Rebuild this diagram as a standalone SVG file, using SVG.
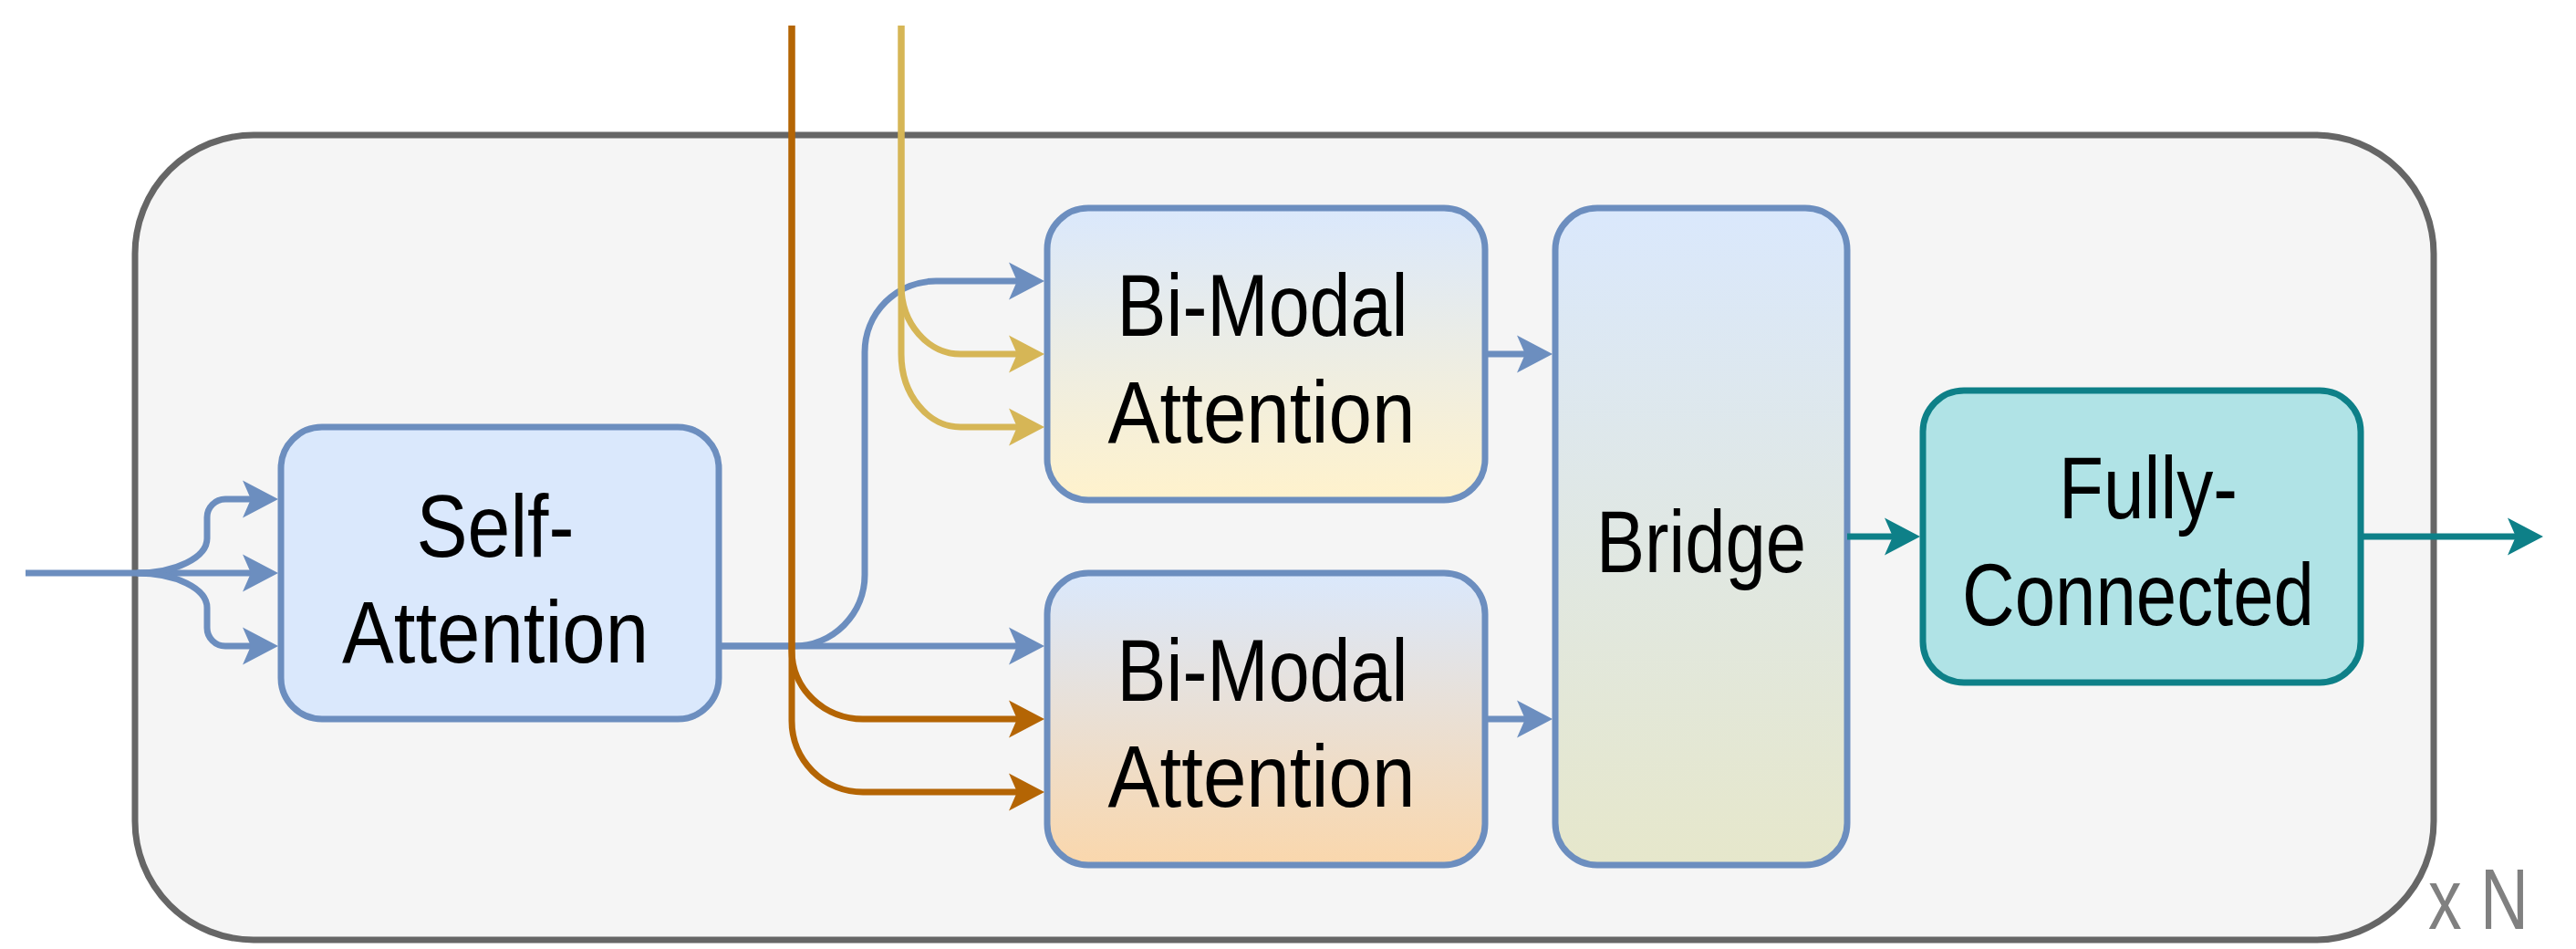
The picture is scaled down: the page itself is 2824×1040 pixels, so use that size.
<svg xmlns="http://www.w3.org/2000/svg" width="2824" height="1040" viewBox="0 0 2824 1040">
<style>
.lbl{font-family:"Liberation Sans Narrow","Liberation Sans",Arial,sans-serif;font-size:96px;fill:#000000;text-anchor:middle}
.box{stroke-width:7}
.blue{stroke:#6c8ebf}
.c{fill:none;stroke-width:7}
.cb{stroke:#6c8ebf;marker-end:url(#aB)}
.cy{stroke:#d6b656;marker-end:url(#aY)}
.co{stroke:#b46504;marker-end:url(#aO)}
.ct{stroke:#0e8088;marker-end:url(#aT)}
</style>
<defs>
<linearGradient id="gY" x1="0" y1="0" x2="0" y2="1"><stop offset="0" stop-color="#dae8fc"/><stop offset="1" stop-color="#fff2cc"/></linearGradient>
<linearGradient id="gO" x1="0" y1="0" x2="0" y2="1"><stop offset="0" stop-color="#dae8fc"/><stop offset="1" stop-color="#fad7ac"/></linearGradient>
<linearGradient id="gB" x1="0" y1="0" x2="0" y2="1"><stop offset="0" stop-color="#dae8fc"/><stop offset="1" stop-color="#e6e7cb"/></linearGradient>
<marker id="aB" markerUnits="userSpaceOnUse" viewBox="-45 -25 60 50" markerWidth="60" markerHeight="50" refX="0" refY="0" orient="auto"><polygon points="10,0 -29,-20.5 -20,0 -29,20.5" fill="#6c8ebf"/></marker>
<marker id="aY" markerUnits="userSpaceOnUse" viewBox="-45 -25 60 50" markerWidth="60" markerHeight="50" refX="0" refY="0" orient="auto"><polygon points="10,0 -29,-20.5 -20,0 -29,20.5" fill="#d6b656"/></marker>
<marker id="aO" markerUnits="userSpaceOnUse" viewBox="-45 -25 60 50" markerWidth="60" markerHeight="50" refX="0" refY="0" orient="auto"><polygon points="10,0 -29,-20.5 -20,0 -29,20.5" fill="#b46504"/></marker>
<marker id="aT" markerUnits="userSpaceOnUse" viewBox="-45 -25 60 50" markerWidth="60" markerHeight="50" refX="0" refY="0" orient="auto"><polygon points="10,0 -29,-20.5 -20,0 -29,20.5" fill="#0e8088"/></marker>
</defs>
<rect width="2824" height="1040" fill="#ffffff"/>
<g id="container">
<rect x="148" y="148" width="2520" height="882" rx="130" ry="130" fill="#f5f5f5" stroke="#666666" stroke-width="7"/>
<text x="2662" y="1018" textLength="110" lengthAdjust="spacingAndGlyphs" style="font-family:'Liberation Sans Narrow','Liberation Sans',Arial,sans-serif;font-size:95px;fill:#808080">x N</text>
</g>
<g id="self-attention">
<rect class="box blue" x="308" y="468" width="480" height="320" rx="45" fill="#dae8fc"/>
<text class="lbl" x="543" y="610" textLength="173" lengthAdjust="spacingAndGlyphs">Self-</text>
<text class="lbl" x="543" y="726" textLength="336" lengthAdjust="spacingAndGlyphs">Attention</text>
</g>
<g id="bimodal-top">
<rect class="box blue" x="1148" y="228" width="480" height="320" rx="45" fill="url(#gY)"/>
<text class="lbl" x="1384" y="368" textLength="319" lengthAdjust="spacingAndGlyphs">Bi-Modal</text>
<text class="lbl" x="1383" y="485" textLength="337" lengthAdjust="spacingAndGlyphs">Attention</text>
</g>
<g id="bimodal-bottom">
<rect class="box blue" x="1148" y="628" width="480" height="320" rx="45" fill="url(#gO)"/>
<text class="lbl" x="1384" y="768" textLength="319" lengthAdjust="spacingAndGlyphs">Bi-Modal</text>
<text class="lbl" x="1383" y="884" textLength="337" lengthAdjust="spacingAndGlyphs">Attention</text>
</g>
<g id="bridge">
<rect class="box blue" x="1705" y="228" width="320" height="720" rx="46" fill="url(#gB)"/>
<text class="lbl" x="1865" y="627" textLength="230" lengthAdjust="spacingAndGlyphs">Bridge</text>
</g>
<g id="fully-connected">
<rect class="box" x="2108" y="428" width="480" height="320" rx="45" fill="#b0e3e6" stroke="#0e8088"/>
<text class="lbl" x="2355" y="568" textLength="196" lengthAdjust="spacingAndGlyphs">Fully-</text>
<text class="lbl" x="2344" y="685" textLength="386" lengthAdjust="spacingAndGlyphs">Connected</text>
</g>
<g id="connectors">
<path class="c cb" d="M28,628 H295"/>
<path class="c cb" d="M150,628 A77,38 0 0 0 227,590 V567 A20,20 0 0 1 247,547 H295"/>
<path class="c cb" d="M150,628 A77,38 0 0 1 227,666 V688 A20,20 0 0 0 247,708 H295"/>
<path class="c cb" d="M788,708 H1135"/>
<path class="c cb" d="M788,708 H870 A78,78 0 0 0 948,630 V386 A78,78 0 0 1 1026,308 H1135"/>
<path class="c cy" d="M988,28 V313 A65,75 0 0 0 1053,388 H1135"/>
<path class="c cy" d="M988,28 V388 A65,80 0 0 0 1053,468 H1135"/>
<path class="c co" d="M868,28 V713 A78,75 0 0 0 946,788 H1135"/>
<path class="c co" d="M868,28 V790 A78,78 0 0 0 946,868 H1135"/>
<path class="c cb" d="M1628,388 H1692"/>
<path class="c cb" d="M1628,788 H1692"/>
<path class="c ct" d="M2025,588 H2095"/>
<path class="c ct" d="M2588,588 H2778"/>
</g>
</svg>
